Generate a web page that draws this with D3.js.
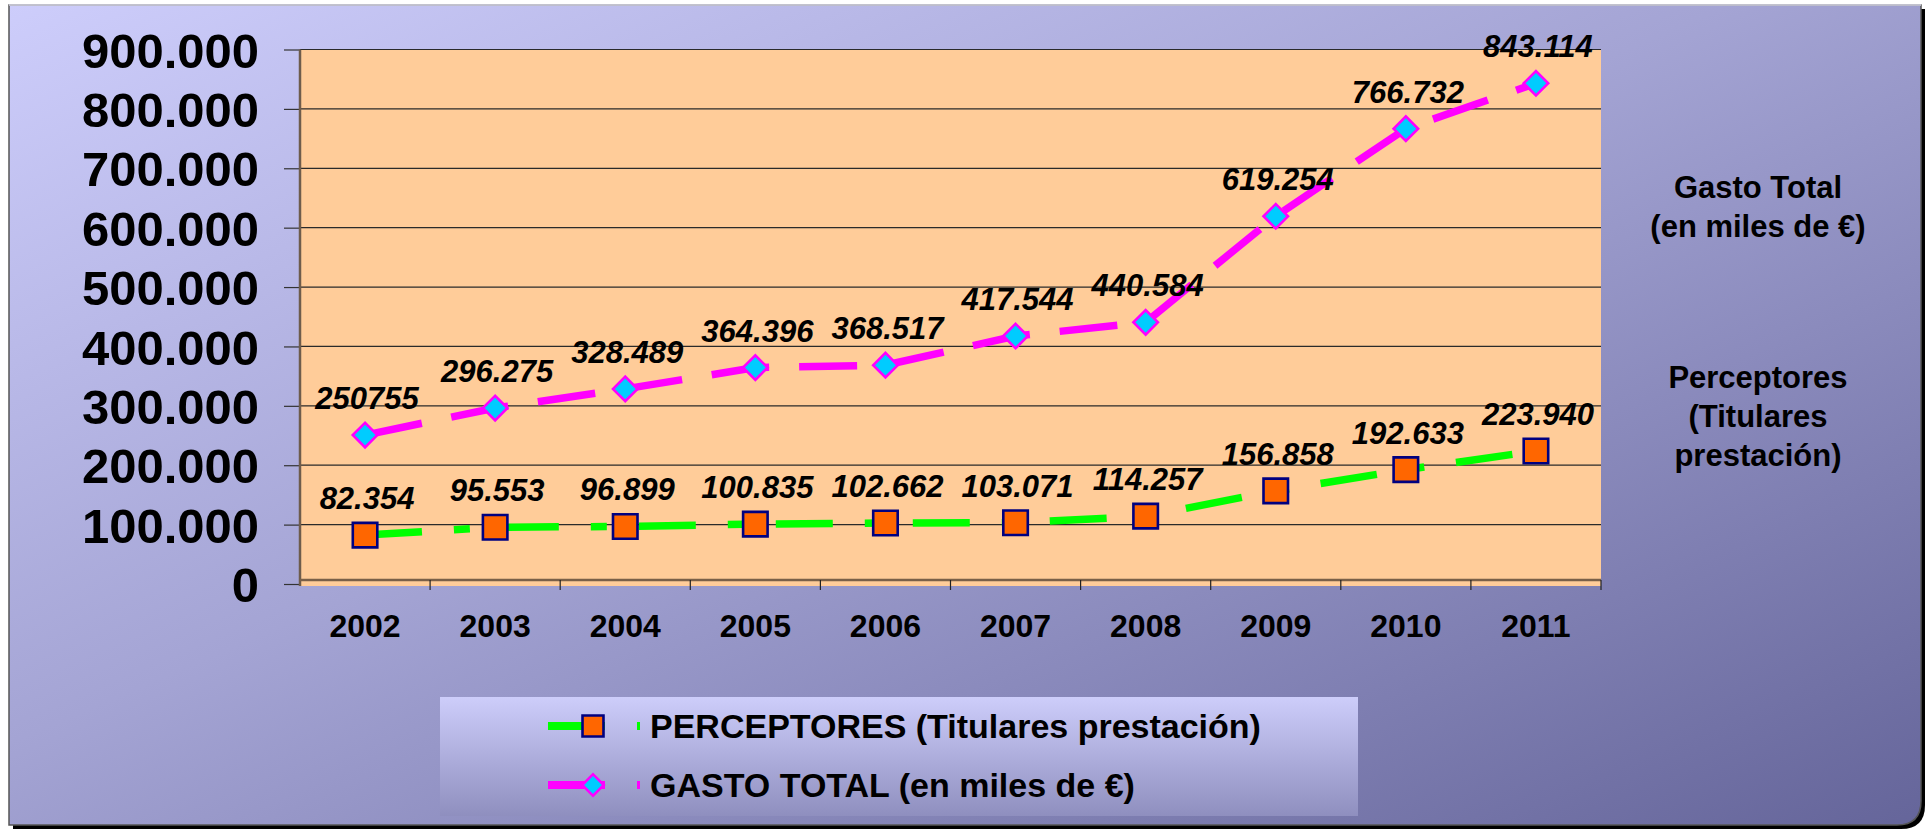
<!DOCTYPE html>
<html>
<head>
<meta charset="utf-8">
<script src="https://cdn.jsdelivr.net/npm/d3@7/dist/d3.min.js"></script>
<style>
  html, body { margin: 0; padding: 0; background: #ffffff; }
  svg { display: block; }
  text { font-family: "Liberation Sans", Arial, sans-serif; }
</style>
</head>
<body>
<svg id="chart" width="1932" height="831"></svg>
<script>
// ---- data ----
const years = ["2002", "2003", "2004", "2005", "2006", "2007", "2008", "2009", "2010", "2011"];
const perceptores = [82354, 95553, 96899, 100835, 102662, 103071, 114257, 156858, 192633, 223940];
const gasto = [250755, 296275, 328489, 364396, 368517, 417544, 440584, 619254, 766732, 843114];
const perceptoresLabels = ["82.354", "95.553", "96.899", "100.835", "102.662", "103.071", "114.257", "156.858", "192.633", "223.940"];
const gastoLabels = ["250755", "296.275", "328.489", "364.396", "368.517", "417.544", "440.584", "619.254", "766.732", "843.114"];
const yTicks = [0, 100000, 200000, 300000, 400000, 500000, 600000, 700000, 800000, 900000];
const legendLabels = ["PERCEPTORES (Titulares prestación)", "GASTO TOTAL (en miles de €)"];
const sideLabelGasto = ["Gasto Total", "(en miles de €)"];
const sideLabelPerc = ["Perceptores", "(Titulares", "prestación)"];

const locale = d3.formatLocale({ decimal: ",", thousands: ".", grouping: [3], currency: ["", "€"] });
const fmt = locale.format(",d");

const svg = d3.select("#chart");
const defs = svg.append("defs");

// background gradient
const bg = defs.append("linearGradient").attr("id", "bgGrad")
  .attr("x1", "0%").attr("y1", "0%").attr("x2", "100%").attr("y2", "100%");
bg.append("stop").attr("offset", "0%").attr("stop-color", "#cdcdfb");
bg.append("stop").attr("offset", "45%").attr("stop-color", "#a4a4d4");
bg.append("stop").attr("offset", "100%").attr("stop-color", "#65659a");

const lg = defs.append("linearGradient").attr("id", "legGrad")
  .attr("x1", "0%").attr("y1", "0%").attr("x2", "0%").attr("y2", "100%");
lg.append("stop").attr("offset", "0%").attr("stop-color", "#cdcdfa");
lg.append("stop").attr("offset", "100%").attr("stop-color", "#8f8fbf");

// frame: shadow + panel
const fx0 = 9, fy0 = 5, fx1 = 1921, fy1 = 825, r = 24;
function framePath(x0, y0, x1, y1) {
  return `M${x0},${y0} L${x1},${y0} L${x1},${y1 - r} Q${x1},${y1} ${x1 - r},${y1} L${x0},${y1} Z`;
}
svg.append("path").attr("d", framePath(fx0 + 4, fy0 + 4, fx1 + 4, fy1 + 4)).attr("fill", "#000");
svg.append("path").attr("d", framePath(fx0, fy0, fx1, fy1)).attr("fill", "url(#bgGrad)")
  .attr("stroke", "#555").attr("stroke-width", 1.5);
svg.append("line").attr("x1", fx0).attr("x2", fx1).attr("y1", fy0).attr("y2", fy0)
  .attr("stroke", "#d8d8e8").attr("stroke-width", 1.5);

// scales
const x = d3.scaleBand().domain(years).range([300, 1601]).padding(0);
const y = d3.scaleLinear().domain([0, 900000]).range([584, 49.5]);
const cx = d => x(d) + x.bandwidth() / 2;

// plot area
svg.append("rect").attr("x", 300).attr("y", y(900000)).attr("width", 1301).attr("height", 586 - y(900000))
  .attr("fill", "#ffcc99");

// gridlines
svg.append("g").selectAll("line").data(yTicks.filter(t => t > 0)).join("line")
  .attr("x1", 300).attr("x2", 1601).attr("y1", d => y(d)).attr("y2", d => y(d))
  .attr("stroke", "#2a2a2a").attr("stroke-width", 1.2);

// y axis
const yAxis = d3.axisLeft(y).tickValues(yTicks).tickFormat(d => fmt(d)).tickSize(16).tickPadding(25);
const gy = svg.append("g").attr("transform", "translate(300,0)").call(yAxis);
gy.select(".domain").remove();
gy.selectAll(".tick line").attr("stroke", "#333").attr("stroke-width", 1.2);
gy.selectAll(".tick text").attr("fill", "#000").attr("font-size", 49).attr("font-weight", "bold")
  .attr("font-family", "Liberation Sans, Arial, sans-serif").attr("dy", "0.36em");
svg.append("line").attr("x1", 300).attr("x2", 300).attr("y1", y(900000)).attr("y2", 586)
  .attr("stroke", "#6e5c4c").attr("stroke-width", 2.5);

// x axis
const xAxis = d3.axisBottom(x).tickSize(0).tickPadding(0);
const gx = svg.append("g").attr("transform", "translate(0,580)").call(xAxis);
gx.select(".domain").remove();
gx.selectAll(".tick text").attr("fill", "#000").attr("font-size", 32).attr("font-weight", "bold")
  .attr("font-family", "Liberation Sans, Arial, sans-serif").attr("y", 57).attr("dy", 0);
svg.append("line").attr("x1", 300).attr("x2", 1601).attr("y1", 580).attr("y2", 580)
  .attr("stroke", "#7a6048").attr("stroke-width", 2.5);
svg.append("g").selectAll("line").data(years.slice(1).concat(["end"])).join("line")
  .attr("x1", d => d === "end" ? 1601 : x(d)).attr("x2", d => d === "end" ? 1601 : x(d))
  .attr("y1", 580).attr("y2", 590).attr("stroke", "#222").attr("stroke-width", 1.2);

// lines
const lineGen = d3.line().x((d, i) => cx(years[i])).y(d => y(d));
svg.append("path").datum(perceptores).attr("d", lineGen).attr("fill", "none")
  .attr("stroke", "#00ff00").attr("stroke-width", 7.5).attr("stroke-dasharray", "57,32,16,32");
svg.append("path").datum(gasto).attr("d", lineGen).attr("fill", "none")
  .attr("stroke", "#ff00ff").attr("stroke-width", 7.5).attr("stroke-dasharray", "58,30");

// markers
const sq = d3.symbol().type(d3.symbolSquare).size(600);
const dm = d3.symbol().type(d3.symbolSquare).size(300);
svg.append("g").selectAll("path").data(perceptores).join("path")
  .attr("d", sq).attr("transform", (d, i) => `translate(${cx(years[i])},${y(d)})`)
  .attr("fill", "#ff6600").attr("stroke", "#000080").attr("stroke-width", 2.6);
svg.append("g").selectAll("path").data(gasto).join("path")
  .attr("d", dm).attr("transform", (d, i) => `translate(${cx(years[i])},${y(d)}) rotate(45)`)
  .attr("fill", "#00ccff").attr("stroke", "#ff00ff").attr("stroke-width", 2.6);

// data labels
function labels(vals, texts) {
  svg.append("g").selectAll("text").data(vals).join("text")
    .attr("x", (d, i) => cx(years[i]) + 2).attr("y", d => y(d) - 26)
    .attr("text-anchor", "middle").attr("font-size", 31).attr("font-weight", "bold")
    .attr("font-style", "italic").attr("fill", "#000")
    .text((d, i) => texts[i]);
}
labels(perceptores, perceptoresLabels);
labels(gasto, gastoLabels);

// side labels
svg.append("g").selectAll("text").data(sideLabelGasto).join("text")
  .attr("x", 1758).attr("y", (d, i) => 198 + i * 39).attr("text-anchor", "middle")
  .attr("font-size", 31).attr("font-weight", "bold").attr("fill", "#000").text(d => d);
svg.append("g").selectAll("text").data(sideLabelPerc).join("text")
  .attr("x", 1758).attr("y", (d, i) => 388 + i * 39).attr("text-anchor", "middle")
  .attr("font-size", 31).attr("font-weight", "bold").attr("fill", "#000").text(d => d);

// legend
svg.append("rect").attr("x", 440).attr("y", 697).attr("width", 918).attr("height", 119)
  .attr("fill", "url(#legGrad)");
const legendRows = [
  { color: "#00ff00", dash: "57,32,16,32", sym: d3.symbol().type(d3.symbolSquare).size(440), fill: "#ff6600", stroke: "#000080", rot: 0 },
  { color: "#ff00ff", dash: "57,32", sym: d3.symbol().type(d3.symbolSquare).size(230), fill: "#00ccff", stroke: "#ff00ff", rot: 45 }
];
const lgRow = svg.append("g").selectAll("g").data(legendRows).join("g")
  .attr("transform", (d, i) => `translate(0,${726 + i * 59})`);
lgRow.append("line").attr("x1", 548).attr("x2", 640).attr("y1", 0).attr("y2", 0)
  .attr("stroke", d => d.color).attr("stroke-width", 8).attr("stroke-dasharray", d => d.dash);
lgRow.append("path").attr("d", d => d.sym()).attr("transform", d => `translate(593,0) rotate(${d.rot})`)
  .attr("fill", d => d.fill).attr("stroke", d => d.stroke).attr("stroke-width", 2.6);
lgRow.append("text").attr("x", 650).attr("y", 0).attr("dy", "0.36em")
  .attr("font-size", 34).attr("font-weight", "bold").attr("fill", "#000")
  .text((d, i) => legendLabels[i]);
</script>
</body>
</html>
